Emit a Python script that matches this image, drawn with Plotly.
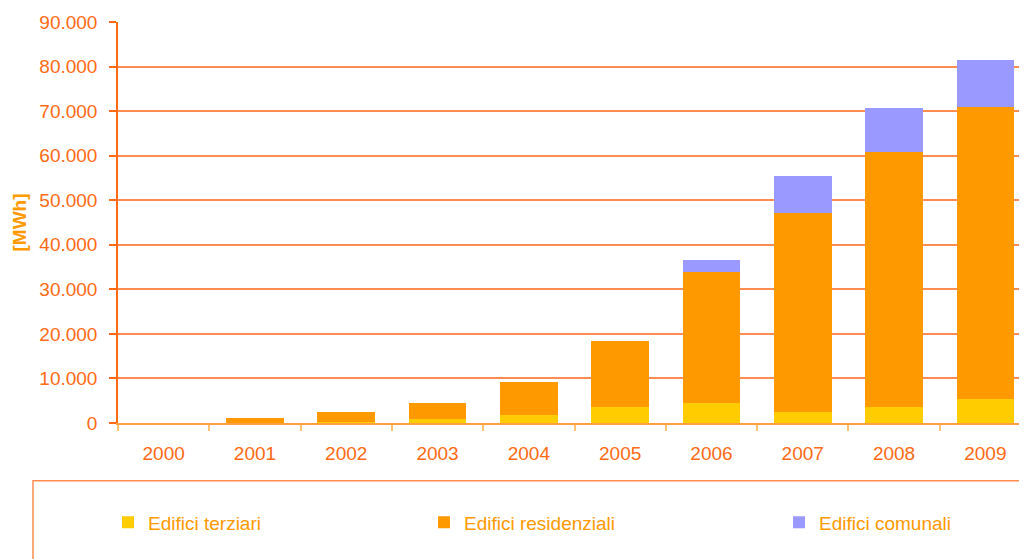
import plotly.graph_objects as go

# ── Data (MWh) ────────────────────────────────────────────────────────────────
YEARS = ["2000", "2001", "2002", "2003", "2004", "2005", "2006", "2007", "2008", "2009"]
TERZIARI     = [0, 100, 300, 800, 1800, 3500, 4400, 2400, 3700, 5300]
RESIDENZIALI = [0, 1100, 2100, 3800, 7300, 14800, 29500, 44800, 57100, 65700]
COMUNALI     = [0, 0, 0, 0, 0, 0, 2700, 8200, 9900, 10400]

SERIES = [
    ("Edifici terziari", TERZIARI, "#FFCC00", "legend"),
    ("Edifici residenziali", RESIDENZIALI, "#FF9900", "legend2"),
    ("Edifici comunali", COMUNALI, "#9999FF", "legend3"),
]

ORANGE_TXT = "#FF6A13"
ORANGE_LEG = "#FF9900"
GRID = "#FF8C50"
FONT = "Arial, Liberation Sans, sans-serif"

fig = go.Figure()
for name, vals, color, leg in SERIES:
    fig.add_trace(go.Bar(
        x=YEARS, y=vals, name=name, legend=leg,
        marker=dict(color=color, line=dict(width=0)),
        width=0.63,
    ))

# page body adds an 8px offset; plot area on screen spans x 118..1031, y 20..423
OFF = 8
W, H = 1027, 559
L, T, PW, PH = 110, 12, 913, 403


def lx(sx):
    return (sx - OFF - L) / PW


def ly(sy):
    return (T + PH - (sy - OFF)) / PH


leg_common = dict(orientation="h", yanchor="middle", xanchor="left",
                  bgcolor="rgba(0,0,0,0)", borderwidth=0,
                  font=dict(family=FONT, size=19, color=ORANGE_LEG),
                  itemwidth=30)

fig.update_layout(
    width=W, height=H,
    paper_bgcolor="white", plot_bgcolor="white",
    font=dict(family=FONT, color=ORANGE_TXT, size=19),
    separators=",.",
    barmode="stack",
    margin=dict(l=L, r=W - L - PW, t=T, b=H - T - PH),
    legend=dict(**leg_common, x=lx(108), y=ly(523)),
    legend2=dict(**leg_common, x=lx(424), y=ly(523)),
    legend3=dict(**leg_common, x=lx(779), y=ly(523)),
    xaxis=dict(
        range=[-0.5, 9.5],
        showgrid=False,
        showline=True, linecolor="#FFA040", linewidth=1.5,
        ticks="outside", tickson="boundaries", ticklen=6,
        tickcolor="#FFC070", tickwidth=1.5,
        tickfont=dict(family=FONT, size=19, color=ORANGE_TXT),
        ticklabelstandoff=12,
    ),
    yaxis=dict(
        range=[0, 90000], dtick=10000, tickformat=",.0f",
        showgrid=True, gridcolor=GRID, gridwidth=1.5,
        zeroline=False,
        showline=True, linecolor="#FF6A13", linewidth=1.5,
        ticks="outside", ticklen=7, tickcolor="#FF6A13", tickwidth=1.5,
        tickfont=dict(family=FONT, size=19, color=ORANGE_TXT),
        ticklabelstandoff=8,
        title=dict(text="<b>[MWh]</b>", standoff=8,
                   font=dict(family=FONT, size=19, color=ORANGE_LEG)),
    ),
    showlegend=True,
)

# legend frame (extends past the right and bottom edges)
fig.add_shape(type="rect", xref="paper", yref="paper",
              x0=lx(33), x1=lx(1045), y0=ly(580), y1=ly(481),
              line=dict(color="#FF8C50", width=1.5), fillcolor="rgba(0,0,0,0)")

fig.write_html("out.html")
